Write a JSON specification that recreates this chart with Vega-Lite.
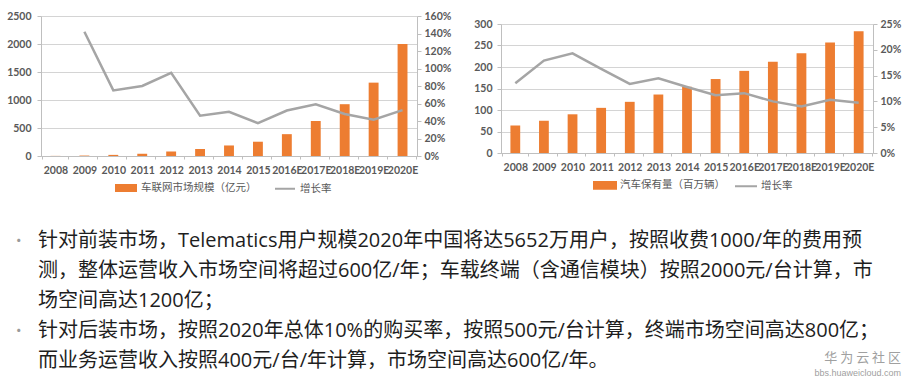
{
  "$schema": "https://vega.github.io/schema/vega-lite/v6.json",
  "padding": {"left": 6, "top": 11, "right": 4, "bottom": 4},
  "background": "white",
  "datasets": {
    "telematics": [
      {"year": "2008", "size": 2, "growth": null},
      {"year": "2009", "size": 8, "growth": 1.42},
      {"year": "2010", "size": 20, "growth": 0.75},
      {"year": "2011", "size": 40, "growth": 0.80},
      {"year": "2012", "size": 82, "growth": 0.95},
      {"year": "2013", "size": 125, "growth": 0.46},
      {"year": "2014", "size": 188, "growth": 0.505},
      {"year": "2015", "size": 255, "growth": 0.375},
      {"year": "2016E", "size": 390, "growth": 0.52},
      {"year": "2017E", "size": 625, "growth": 0.59},
      {"year": "2018E", "size": 925, "growth": 0.48},
      {"year": "2019E", "size": 1310, "growth": 0.415},
      {"year": "2020E", "size": 2000, "growth": 0.525}
    ],
    "cars": [
      {"year": "2008", "size": 64, "growth": 0.135},
      {"year": "2009", "size": 75, "growth": 0.179},
      {"year": "2010", "size": 90, "growth": 0.193},
      {"year": "2011", "size": 105, "growth": 0.163},
      {"year": "2012", "size": 119, "growth": 0.134},
      {"year": "2013", "size": 136, "growth": 0.145},
      {"year": "2014", "size": 154, "growth": 0.128},
      {"year": "2015", "size": 172, "growth": 0.112},
      {"year": "2016E", "size": 191, "growth": 0.116},
      {"year": "2017E", "size": 212, "growth": 0.100},
      {"year": "2018E", "size": 232, "growth": 0.090},
      {"year": "2019E", "size": 257, "growth": 0.103},
      {"year": "2020E", "size": 283, "growth": 0.0975}
    ],
    "lines": [
      {"n": 1, "b": "•", "t": "针对前装市场，Telematics用户规模2020年中国将达5652万用户，按照收费1000/年的费用预"},
      {"n": 2, "b": "", "t": "测，整体运营收入市场空间将超过600亿/年；车载终端（含通信模块）按照2000元/台计算，市"},
      {"n": 3, "b": "", "t": "场空间高达1200亿；"},
      {"n": 4, "b": "•", "t": "针对后装市场，按照2020年总体10%的购买率，按照500元/台计算，终端市场空间高达800亿；"},
      {"n": 5, "b": "", "t": "而业务运营收入按照400元/台/年计算，市场空间高达600亿/年。"}
    ],
    "mark": [
      {"n": 5, "w": "华 为 云 社 区", "u": "bbs.huaweicloud.com"}
    ]
  },
  "vconcat": [
    {
      "hconcat": [
        {
          "width": 376,
          "height": 140,
          "data": {"name": "telematics"},
          "encoding": {
            "x": {"field": "year", "type": "ordinal", "sort": null,
              "axis": {"title": null, "labelAngle": 0, "ticks": true, "tickBand": "extent", "tickSize": 3, "domain": true, "labelOverlap": false, "labelPadding": 6}}
          },
          "layer": [
            {
              "mark": {"type": "bar", "width": {"band": 0.38}},
              "encoding": {
                "y": {"field": "size", "type": "quantitative", "scale": {"domain": [0, 2500]},
                  "axis": {"title": null, "format": "d", "values": [0, 500, 1000, 1500, 2000, 2500], "grid": true, "gridColor": "#D4D4D4", "domain": true, "ticks": true, "tickSize": 4, "labelPadding": 6}},
                "color": {"datum": "车联网市场规模（亿元）", "type": "nominal",
                  "scale": {"domain": ["车联网市场规模（亿元）", "增长率"], "range": ["#ED7D31", "#A5A5A5"]},
                  "legend": {"orient": "none", "legendX": 74, "legendY": 161, "direction": "horizontal", "title": null,
                    "symbolSize": 400, "columnPadding": 14, "labelOffset": 4, "labelFontSize": 10.5, "labelColor": "#595959", "labelFont": "Noto Sans CJK SC",
                    "encode": {"symbols": {"update": {
                      "shape": {"signal": "datum.value === '增长率' ? 'M-1,0H1' : 'M-1,-0.3H1V0.3H-1Z'"},
                      "fill": {"signal": "datum.value === '增长率' ? 'transparent' : '#ED7D31'"},
                      "stroke": {"signal": "datum.value === '增长率' ? '#A5A5A5' : 'transparent'"},
                      "strokeWidth": {"value": 2}
                    }}}}}
              }
            },
            {
              "mark": {"type": "line", "strokeWidth": 2.5},
              "encoding": {
                "y": {"field": "growth", "type": "quantitative", "scale": {"domain": [0, 1.6]},
                  "axis": {"title": null, "orient": "right", "format": ".0%", "values": [0, 0.2, 0.4, 0.6, 0.8, 1.0, 1.2, 1.4, 1.6], "grid": false, "domain": true, "ticks": true, "tickSize": 4, "labelPadding": 3}},
                "color": {"datum": "增长率", "type": "nominal"}
              }
            }
          ],
          "resolve": {"scale": {"y": "independent"}}
        },
        {
          "width": 372,
          "height": 137,
          "data": {"name": "cars"},
          "encoding": {
            "x": {"field": "year", "type": "ordinal", "sort": null,
              "axis": {"title": null, "labelAngle": 0, "ticks": true, "tickBand": "extent", "tickSize": 3, "domain": true, "labelOverlap": false, "labelPadding": 6}}
          },
          "layer": [
            {
              "mark": {"type": "bar", "width": {"band": 0.38}},
              "encoding": {
                "y": {"field": "size", "type": "quantitative", "scale": {"domain": [0, 300], "range": [137, 8]},
                  "axis": {"title": null, "values": [0, 50, 100, 150, 200, 250, 300], "grid": true, "gridColor": "#D4D4D4", "domain": true, "ticks": true, "tickSize": 4, "labelPadding": 5}},
                "color": {"datum": "汽车保有量（百万辆）", "type": "nominal",
                  "scale": {"domain": ["汽车保有量（百万辆）", "增长率"], "range": ["#ED7D31", "#A5A5A5"]},
                  "legend": {"orient": "none", "legendX": 92, "legendY": 157, "direction": "horizontal", "title": null,
                    "symbolSize": 484, "columnPadding": 6, "labelOffset": 3, "labelFontSize": 10.5, "labelColor": "#595959", "labelFont": "Noto Sans CJK SC",
                    "encode": {"symbols": {"update": {
                      "shape": {"signal": "datum.value === '增长率' ? 'M-1,0H1' : 'M-1,-0.3H1V0.3H-1Z'"},
                      "fill": {"signal": "datum.value === '增长率' ? 'transparent' : '#ED7D31'"},
                      "stroke": {"signal": "datum.value === '增长率' ? '#A5A5A5' : 'transparent'"},
                      "strokeWidth": {"value": 2}
                    }}}}}
              }
            },
            {
              "mark": {"type": "line", "strokeWidth": 2.5},
              "encoding": {
                "y": {"field": "growth", "type": "quantitative", "scale": {"domain": [0, 0.25], "range": [137, 8]},
                  "axis": {"title": null, "orient": "right", "format": ".0%", "values": [0, 0.05, 0.1, 0.15, 0.2, 0.25], "grid": false, "domain": true, "ticks": true, "tickSize": 4, "labelPadding": 3}},
                "color": {"datum": "增长率", "type": "nominal"}
              }
            }
          ],
          "resolve": {"scale": {"y": "independent"}}
        }
      ],
      "spacing": 22,
      "resolve": {"scale": {"color": "independent"}, "legend": {"color": "independent"}}
    },
    {
      "width": 860,
      "height": 150,
      "encoding": {
        "y": {"field": "n", "type": "ordinal", "axis": null, "scale": {"type": "point", "padding": 0.5}}
      },
      "layer": [
        {
          "data": {"name": "lines"},
          "mark": {"type": "text", "align": "center", "baseline": "middle", "fontSize": 15, "color": "#9A9A9A", "font": "Noto Sans CJK SC"},
          "encoding": {
            "x": {"datum": -2.6, "type": "quantitative", "scale": {"domain": [0, 100]}, "axis": null},
            "text": {"field": "b"}
          }
        },
        {
          "data": {"name": "lines"},
          "mark": {"type": "text", "align": "left", "baseline": "middle", "fontSize": 20, "color": "#1E1E1E", "font": "Open Sans, Noto Sans CJK SC"},
          "encoding": {
            "x": {"datum": -0.35, "type": "quantitative"},
            "text": {"field": "t"}
          }
        },
        {
          "data": {"name": "mark"},
          "mark": {"type": "text", "align": "right", "baseline": "middle", "fontSize": 13, "dy": -3, "color": "#A0A0A0", "font": "Noto Sans CJK SC"},
          "encoding": {
            "x": {"datum": 100, "type": "quantitative"},
            "text": {"field": "w"}
          }
        },
        {
          "data": {"name": "mark"},
          "mark": {"type": "text", "align": "right", "baseline": "middle", "fontSize": 9, "dy": 12, "color": "#A0A0A0", "font": "Liberation Sans"},
          "encoding": {
            "x": {"datum": 100, "type": "quantitative"},
            "text": {"field": "u"}
          }
        }
      ]
    }
  ],
  "spacing": 31,
  "config": {
    "view": {"stroke": null},
    "axis": {"labelFont": "Lato", "labelFontWeight": "bold", "labelFontSize": 10.5, "labelColor": "#595959", "domainColor": "#BFBFBF", "tickColor": "#BFBFBF"}
  }
}
